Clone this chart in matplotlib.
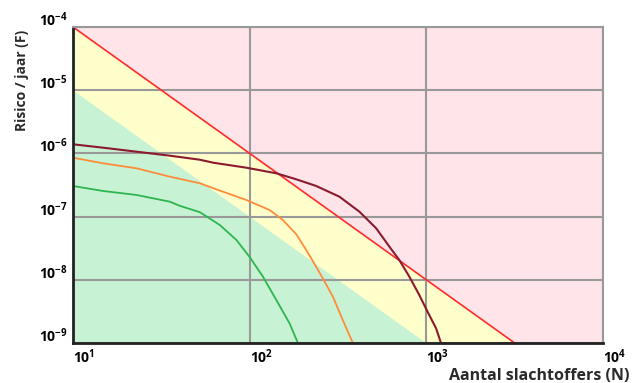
import numpy as np
import matplotlib
matplotlib.use('Agg')
import matplotlib.pyplot as plt
from matplotlib.transforms import ScaledTranslation

# criterion lines (N, F)
red_N = [10, 3162]
red_F = [1e-4, 1e-9]
green_N = [10, 1000]
green_F = [1e-5, 1e-9]

# FN curves, as log10 values
maroon_logN = [1.0, 1.171, 1.36, 1.548, 1.718, 1.793, 1.981, 2.151, 2.264, 2.377, 2.508, 2.621,
               2.716, 2.791, 2.847, 2.904, 2.96, 3.007, 3.055, 3.083]
maroon_logF = [-5.856, -5.91, -5.973, -6.036, -6.10, -6.147, -6.226, -6.315, -6.41, -6.516, -6.685, -6.922,
               -7.185, -7.476, -7.687, -7.951, -8.24, -8.505, -8.767, -9.0]
orange_logN = [1.0, 1.171, 1.36, 1.548, 1.718, 1.793, 1.981, 2.113, 2.188, 2.264, 2.32, 2.354,
               2.414, 2.471, 2.527, 2.584]
orange_logF = [-6.068, -6.157, -6.236, -6.368, -6.473, -6.55, -6.737, -6.896, -7.054, -7.28, -7.528, -7.687,
               -7.976, -8.267, -8.636, -9.0]
green_logN = [1.0, 1.171, 1.36, 1.548, 1.605, 1.718, 1.831, 1.925, 2.0, 2.075, 2.151, 2.226, 2.273]
green_logF = [-6.516, -6.595, -6.658, -6.764, -6.83, -6.93, -7.133, -7.37, -7.64, -7.95, -8.32, -8.69, -9.0]

xticks = [10, 100, 1000, 10000]
xticklabels = ['10^{1}', '10^{2}', '10^{3}', '10^{4}']
yticks = [1e-9, 1e-8, 1e-7, 1e-6, 1e-5, 1e-4]
yticklabels = ['10^{-9}', '10^{-8}', '10^{-7}', '10^{-6}', '10^{-5}', '10^{-4}']

plt.rcParams['font.family'] = ['Open Sans', 'DejaVu Sans']
plt.rcParams['mathtext.fontset'] = 'custom'
plt.rcParams['mathtext.rm'] = 'Open Sans'
plt.rcParams['mathtext.bf'] = 'Open Sans:bold'

fig = plt.figure(figsize=(6.37, 3.83), dpi=100)
ax = fig.add_axes([73/637, 1-343/383, 530/637, 316/383])
ax.set_xscale('log')
ax.set_yscale('log')
ax.set_xlim(10, 1e4)
ax.set_ylim(1e-9, 1e-4)
ax.set_facecolor('#FFE4EA')

# zones
ax.fill_between(red_N, [1e-9, 1e-9], red_F, color='#FFFFCC', lw=0, zorder=1)
ax.fill_between(green_N, [1e-9, 1e-9], green_F, color='#C8F2D4', lw=0, zorder=1)

ax.grid(True, which='major', color='#999999', lw=1.5, zorder=2)
ax.set_axisbelow(False)

ax.plot(red_N, red_F, color='#FF2A2A', lw=1.2, zorder=4)
ax.plot(10**np.array(maroon_logN), 10**np.array(maroon_logF), color='#8B1A2E', lw=1.5, zorder=4)
ax.plot(10**np.array(orange_logN), 10**np.array(orange_logF), color='#FF8C3A', lw=1.3, zorder=4)
ax.plot(10**np.array(green_logN), 10**np.array(green_logF), color='#2DB550', lw=1.3, zorder=4)

ax.minorticks_off()
ax.set_xticks(xticks)
ax.set_xticklabels([r'$\mathbf{%s}$' % s for s in xticklabels], fontsize=10)
ax.set_yticks(yticks)
ax.set_yticklabels([r'$\mathbf{%s}$' % s for s in yticklabels], fontsize=10)
ax.tick_params(length=0, pad=4)
for lab in ax.get_xticklabels():
    lab.set_horizontalalignment('left')
for lab in ax.get_yticklabels():
    lab.set_transform(lab.get_transform() + ScaledTranslation(0, 6/72, fig.dpi_scale_trans))

for s in ['top', 'right']:
    ax.spines[s].set_color('#999999')
    ax.spines[s].set_linewidth(1.5)
for s in ['left', 'bottom']:
    ax.spines[s].set_color('#222222')
    ax.spines[s].set_linewidth(2)
for s in ax.spines.values():
    s.set_zorder(5)

fig.text(22/637, 1-80/383, 'Risico / jaar (F)', rotation=90, ha='center', va='center',
         fontsize=10, fontweight='bold', color='#2a2a2a')
fig.text(539/637, 1-376/383, 'Aantal slachtoffers (N)', ha='center', va='center',
         fontsize=11.5, fontweight='bold', color='#2a2a2a')

fig.savefig('out.png', dpi=100, facecolor='white')
